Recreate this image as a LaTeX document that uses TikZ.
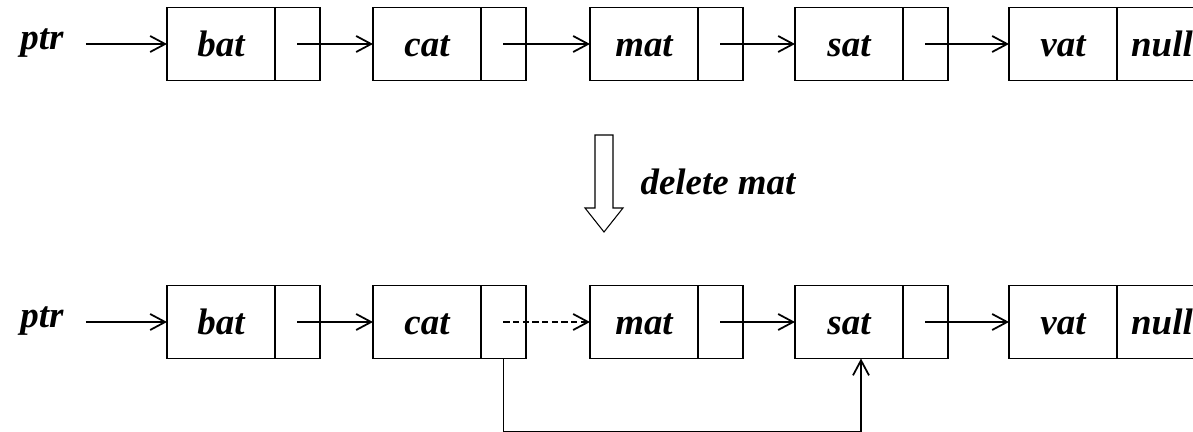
\documentclass[tikz,border=0pt]{standalone}
\usepackage{fontspec}
\setmainfont{Liberation Serif}
\usetikzlibrary{arrows.meta, positioning}

\begin{document}
\begin{tikzpicture}[x=0.02cm, y=0.02cm,
  txt/.style={font=\fontsize{21}{25}\selectfont\bfseries\itshape, text height=14pt, text depth=0pt},
  cell/.style={txt, draw, line width=1.1pt, minimum height=1.46cm, inner sep=0pt, outer sep=0pt},
  data/.style={cell, minimum width=2.16cm},
  link/.style={cell, minimum width=0.9cm, right=0pt of #1},
  nxt/.style={line width=1pt, -{Straight Barb[length=0.3cm, width=0.32cm]}}]
\useasboundingbox (0,0) rectangle (1193,432);

% Lista initiala
\node[txt, inner xsep=0.44cm] (ptr1) at (42,394.5) {ptr};
\node[data] (bat1) at (221,388) {bat};
\node[link=bat1] (bat1p) {};
\node[data] (cat1) at (427,388) {cat};
\node[link=cat1] (cat1p) {};
\node[data] (mat1) at (644,388) {mat};
\node[link=mat1] (mat1p) {};
\node[data] (sat1) at (849,388) {sat};
\node[link=sat1] (sat1p) {};
\node[data] (vat1) at (1063,388) {vat};
\node[cell, minimum width=1.8cm, right=0pt of vat1] (vat1p) {null};

\draw[nxt] (ptr1.east |- bat1.west) -- (bat1);
\draw[nxt] (bat1p.center) -- (cat1);
\draw[nxt] (cat1p.center) -- (mat1);
\draw[nxt] (mat1p.center) -- (sat1);
\draw[nxt] (sat1p.center) -- (vat1);

% Operatia de stergere
\draw[line width=0.6pt] (595,297) -- (613,297) -- (613,224) -- (623,224)
  -- (604,200) -- (585,224) -- (595,224) -- cycle;
\node[txt] (op) at (718,249.5) {delete mat};

% Lista dupa stergere
\node[txt, inner xsep=0.44cm] (ptr2) at (42,116.5) {ptr};
\node[data] (bat2) at (221,110) {bat};
\node[link=bat2] (bat2p) {};
\node[data] (cat2) at (427,110) {cat};
\node[link=cat2] (cat2p) {};
\node[data] (mat2) at (644,110) {mat};
\node[link=mat2] (mat2p) {};
\node[data] (sat2) at (849,110) {sat};
\node[link=sat2] (sat2p) {};
\node[data] (vat2) at (1063,110) {vat};
\node[cell, minimum width=1.8cm, right=0pt of vat2] (vat2p) {null};

\draw[nxt] (ptr2.east |- bat2.west) -- (bat2);
\draw[nxt] (bat2p.center) -- (cat2);
\draw[nxt, dash pattern=on 3.5pt off 2pt] (cat2p.center) -- (mat2);
\draw[nxt] (mat2p.center) -- (sat2);
\draw[nxt] (sat2p.center) -- (vat2);
\draw[nxt] (cat2p.south) -- ++(0,-73) -| ([xshift=0.24cm]sat2.south);

\end{tikzpicture}
\end{document}
